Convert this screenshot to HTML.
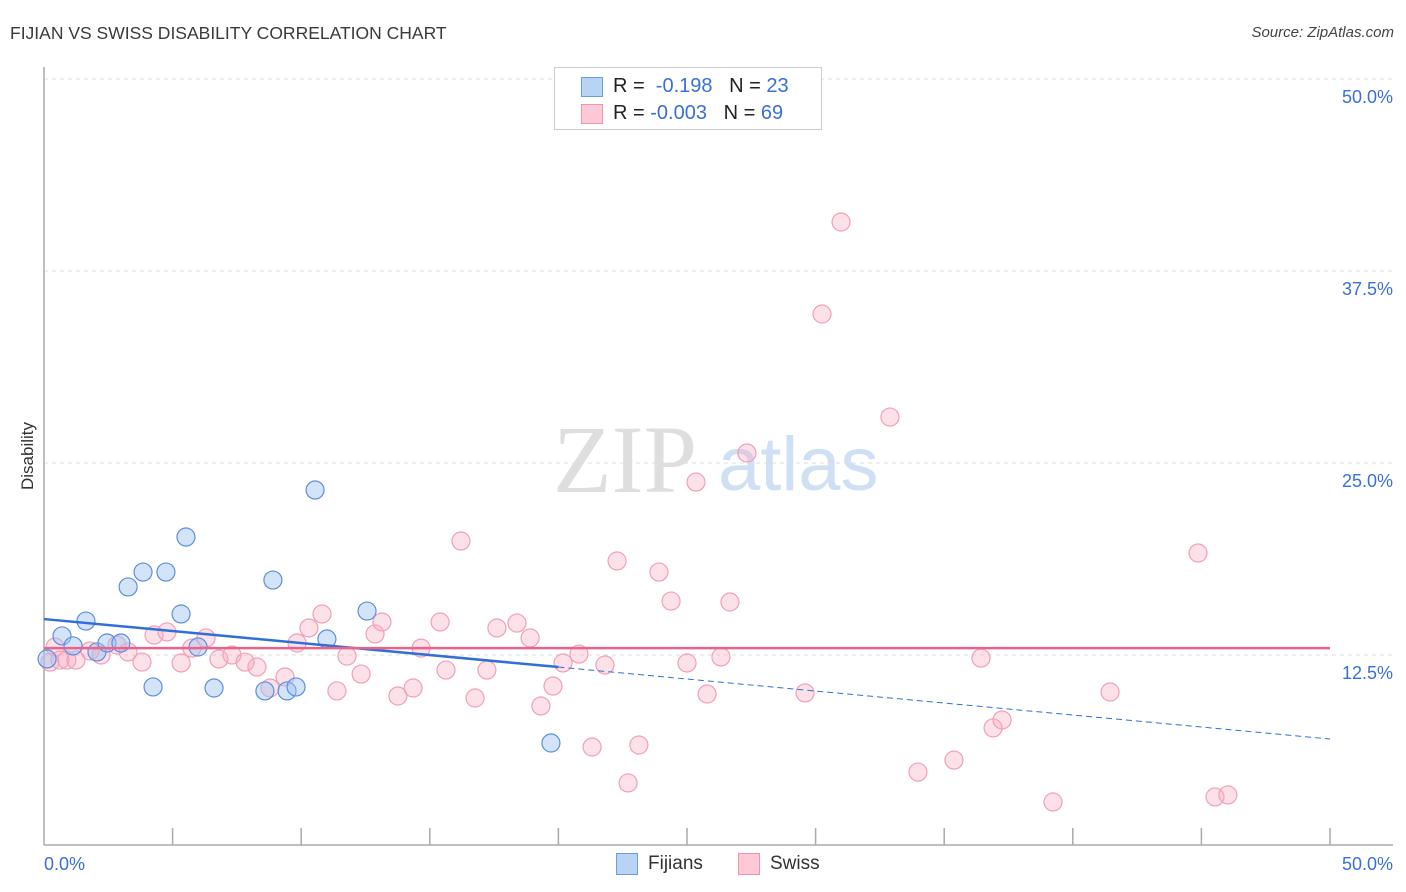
<!DOCTYPE html>
<html><head><meta charset="utf-8"><style>
body{margin:0;background:#fff;font-family:"Liberation Sans",sans-serif;}
#wrap{position:relative;width:1406px;height:892px;overflow:hidden;}
.t{position:absolute;white-space:nowrap;}
</style></head><body>
<div id="wrap">
<div class="t" style="left:10px;top:23px;font-size:17.5px;color:#3a3a3a;">FIJIAN VS SWISS DISABILITY CORRELATION CHART</div>
<div class="t" style="right:12px;top:24px;font-size:15px;color:#444;font-style:italic;">Source: ZipAtlas.com</div>
<svg id="svg" width="1406" height="892" style="position:absolute;left:0;top:0"></svg>
<div class="t" style="left:554px;top:67px;width:266px;height:61px;border:1px solid #ccc;background:#fff;">
 <div style="position:absolute;left:26px;top:9px;width:20px;height:18px;background:#b9d3f5;border:1px solid #6a9ee0;"></div>
 <div style="position:absolute;left:58px;top:7px;font-size:20px;color:#222;">R = &nbsp;<span style="color:#3a6fd8">-0.198</span>&nbsp;&nbsp;&nbsp;N = <span style="color:#3a6fd8">23</span></div>
 <div style="position:absolute;left:26px;top:36px;width:20px;height:18px;background:#fcc9d6;border:1px solid #ef93ae;"></div>
 <div style="position:absolute;left:58px;top:34px;font-size:20px;color:#222;">R = <span style="color:#3a6fd8">-0.003</span>&nbsp;&nbsp;&nbsp;N = <span style="color:#3a6fd8">69</span></div>
</div>
<div class="t" style="left:616px;top:853px;width:20px;height:20px;background:#b9d3f5;border:1px solid #6a9ee0;"></div>
<div class="t" style="left:648px;top:853px;font-size:19px;color:#333;">Fijians</div>
<div class="t" style="left:738px;top:853px;width:20px;height:20px;background:#fcc9d6;border:1px solid #ef93ae;"></div>
<div class="t" style="left:770px;top:853px;font-size:19px;color:#333;">Swiss</div>
<div class="t" style="top:456px;font-size:17px;color:#333;transform:translate(-50%,-50%) rotate(-90deg);transform-origin:center;left:28px;">Disability</div>
</div>
<script>
const xTicks=["0.0%","50.0%"];
const yTickVals=[12.5,25,37.5,50];
const yTickLabels=["12.5%","25.0%","37.5%","50.0%"];
const fijX=[0.12,0.70,1.13,1.63,2.06,2.45,2.99,3.27,3.85,4.24,4.74,5.33,5.52,5.99,6.61,8.59,8.90,9.45,9.80,10.54,11.00,12.56,19.71];
const fijY=[12.24,13.74,13.09,14.71,12.70,13.28,13.28,16.93,17.90,10.42,17.90,15.17,20.18,13.02,10.35,10.16,17.38,10.16,10.42,23.24,13.54,15.36,6.77];
const swX=[0.23,0.43,0.62,0.89,1.24,1.79,2.22,2.84,3.27,3.81,4.28,4.78,5.33,5.75,6.30,6.80,7.31,7.82,8.28,8.79,9.37,9.84,10.30,10.81,11.39,11.78,12.33,12.87,13.14,13.76,14.35,14.66,15.40,15.63,16.21,16.76,17.22,17.61,18.39,18.90,19.32,19.79,20.18,20.80,21.31,21.81,22.28,22.71,23.13,23.91,24.38,25.00,25.35,25.78,26.32,26.67,27.33,29.59,30.25,30.99,32.89,33.98,35.38,36.43,36.90,37.25,39.23,41.45,44.87,45.53,46.03];
const swY=[12.04,13.02,12.17,12.17,12.17,12.76,12.50,13.15,12.70,12.04,13.80,14.00,11.98,12.95,13.61,12.24,12.50,12.04,11.72,10.35,11.07,13.28,14.26,15.17,10.16,12.43,11.26,13.87,14.65,9.83,10.35,12.95,14.65,11.52,19.92,9.70,11.52,14.26,14.58,13.61,9.18,10.48,11.98,12.56,6.51,11.85,18.62,4.17,6.64,17.90,16.01,11.98,23.76,9.96,12.37,15.95,25.65,10.03,34.70,40.69,27.99,4.88,5.66,12.30,7.75,8.27,2.93,10.09,19.14,3.26,3.39];
const fijTrend=[14.84,7.03];
const swTrend=[12.95,12.95];
const fijSolidEnd=20;

const X=v=>44+v/50*1286;
const Y=v=>847-v/12.5*192;
const svg=document.getElementById('svg');
const NS='http://www.w3.org/2000/svg';
function mk(t,a){const e=document.createElementNS(NS,t);for(const k in a)e.setAttribute(k,a[k]);svg.appendChild(e);return e;}
let w=mk('text',{x:553,y:492,'font-size':96,'font-family':'Liberation Serif,serif',fill:'#dedede'});w.textContent='ZIP';


let w2=mk('text',{x:718,y:490,'font-size':76,'font-family':'Liberation Sans,sans-serif',fill:'#cfe0f5'});w2.textContent='atlas';


yTickVals.forEach((v,i)=>{
 const g=mk('line',{x1:44,x2:1393,y1:Y(v),y2:Y(v),stroke:'#dcdcdc','stroke-dasharray':'4,4'});
 
 
 const t=mk('text',{x:1393,y:Y(v)+24,'text-anchor':'end','font-size':18,fill:'#3a6fd8','font-family':'Liberation Sans,sans-serif'});t.textContent=yTickLabels[i];
 
 
});
mk('line',{x1:44,x2:44,y1:67,y2:845,stroke:'#aaa','stroke-width':1.5});
mk('line',{x1:44,x2:1393,y1:845,y2:845,stroke:'#aaa','stroke-width':1.5});
for(let i=1;i<=10;i++){const x=X(i*5);const l=mk('line',{x1:x,x2:x,y1:828,y2:845,stroke:'#aaa','stroke-width':1.5});
 
 }
[[0,'start',44],[1,'end',1393]].forEach(([i,a,x])=>{const t=mk('text',{x:x,y:870,'text-anchor':a,'font-size':18,fill:'#3a6fd8','font-family':'Liberation Sans,sans-serif'});t.textContent=xTicks[i];
 
 });
swX.forEach((x,i)=>{const c=mk('circle',{cx:X(x),cy:Y(swY[i]),r:9,fill:'rgba(248,170,192,0.35)',stroke:'#f0a0b8','stroke-width':1.2});
 
 });
fijX.forEach((x,i)=>{const c=mk('circle',{cx:X(x),cy:Y(fijY[i]),r:9,fill:'rgba(160,195,240,0.45)',stroke:'#5c8fdc','stroke-width':1.2});
 
 });
const fy=x=>fijTrend[0]+(fijTrend[1]-fijTrend[0])*x/50;
let l1=mk('line',{x1:X(0),y1:Y(fy(0)),x2:X(fijSolidEnd),y2:Y(fy(fijSolidEnd)),stroke:'#2f6fd6','stroke-width':2.5});


let l2=mk('line',{x1:X(fijSolidEnd),y1:Y(fy(fijSolidEnd)),x2:X(50),y2:Y(fy(50)),stroke:'#2f6fd6','stroke-width':1,'stroke-dasharray':'6,4'});


let l3=mk('line',{x1:X(0),y1:Y(swTrend[0]),x2:X(50),y2:Y(swTrend[1]),stroke:'#e8648c','stroke-width':2.5});


</script>
</body></html>
